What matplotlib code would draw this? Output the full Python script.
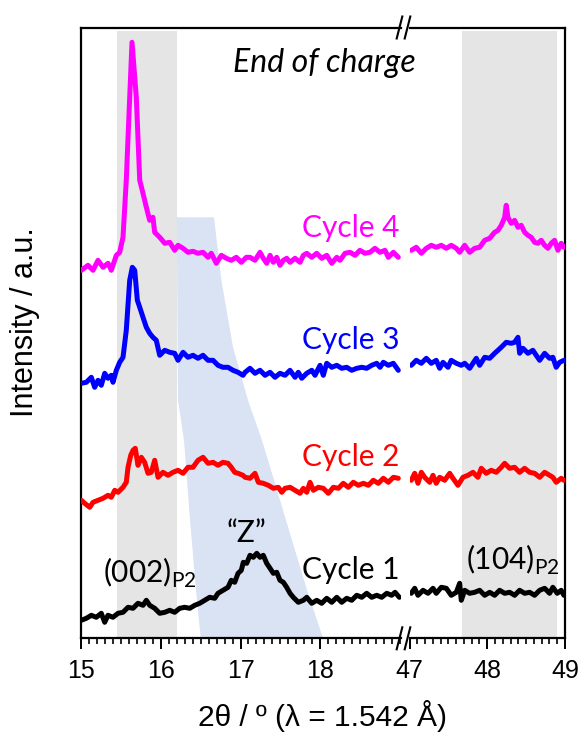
import matplotlib
matplotlib.use("Agg")
import matplotlib.pyplot as plt
from matplotlib.lines import Line2D
from matplotlib.ticker import MultipleLocator

# ---------------- data (2theta in degrees, intensity in a.u.) ----------------
cyc4_x_lo = [15.00, 15.084, 15.147, 15.21, 15.273, 15.336, 15.377, 15.44, 15.482, 15.524, 15.565, 15.608,
             15.637, 15.691, 15.734, 15.775, 15.817, 15.859, 15.90, 15.922, 15.985, 16.048, 16.111, 16.173,
             16.215, 16.278, 16.34, 16.403, 16.466, 16.529, 16.592, 16.633, 16.696, 16.759, 16.822, 16.884,
             16.947, 17.01, 17.073, 17.119, 17.182, 17.245, 17.286, 17.329, 17.371, 17.412, 17.455, 17.496,
             17.538, 17.58, 17.622, 17.685, 17.748, 17.789, 17.832, 17.895, 17.957, 18.02, 18.083, 18.146,
             18.209, 18.25, 18.313, 18.376, 18.439, 18.50, 18.564, 18.626, 18.689, 18.752, 18.815, 18.857,
             18.92, 18.982]
cyc4_i_lo = [368, 373, 368, 378, 371, 375, 368, 383, 386, 401, 458, 541,
             596, 541, 458, 445, 431, 418, 421, 406, 401, 395, 396, 388,
             393, 390, 386, 387, 385, 386, 381, 385, 375, 383, 380, 378,
             381, 376, 381, 381, 378, 386, 380, 375, 383, 376, 381, 373,
             378, 380, 376, 380, 376, 383, 385, 381, 385, 380, 383, 375,
             381, 378, 385, 386, 383, 388, 385, 386, 390, 386, 388, 381,
             386, 381]
cyc4_x_hi = [47.023, 47.087, 47.152, 47.216, 47.28, 47.344, 47.409, 47.473, 47.537, 47.602, 47.645, 47.71,
             47.774, 47.838, 47.902, 47.967, 48.031, 48.095, 48.138, 48.18, 48.224, 48.244, 48.266, 48.308,
             48.352, 48.395, 48.437, 48.481, 48.523, 48.566, 48.609, 48.652, 48.694, 48.738, 48.78, 48.823,
             48.866, 48.909, 48.951, 48.986]
cyc4_i_hi = [388, 391, 385, 390, 393, 391, 393, 390, 393, 390, 386, 393,
             386, 390, 391, 398, 400, 406, 408, 413, 421, 433, 421, 415,
             418, 411, 413, 406, 403, 401, 396, 395, 398, 393, 390, 395,
             398, 388, 395, 391]

cyc3_x_lo = [15.00, 15.063, 15.126, 15.168, 15.21, 15.251, 15.294, 15.335, 15.377, 15.398, 15.44, 15.482,
             15.524, 15.565, 15.608, 15.641, 15.671, 15.704, 15.734, 15.775, 15.817, 15.859, 15.90, 15.942,
             15.985, 16.048, 16.111, 16.173, 16.215, 16.278, 16.34, 16.403, 16.466, 16.529, 16.592, 16.655,
             16.717, 16.78, 16.843, 16.906, 16.969, 17.031, 17.057, 17.119, 17.182, 17.245, 17.308, 17.371,
             17.433, 17.496, 17.559, 17.622, 17.685, 17.726, 17.769, 17.832, 17.895, 17.936, 17.999, 18.04,
             18.083, 18.146, 18.209, 18.271, 18.334, 18.397, 18.46, 18.523, 18.585, 18.648, 18.711, 18.753,
             18.794, 18.857, 18.92, 18.982]
cyc3_i_lo = [255, 256, 261, 251, 258, 253, 265, 260, 263, 256, 268, 276,
             281, 308, 358, 371, 368, 338, 331, 321, 311, 305, 301, 298,
             283, 288, 286, 285, 278, 286, 281, 283, 280, 283, 278, 278,
             273, 271, 271, 268, 266, 263, 266, 270, 265, 268, 263, 266,
             261, 265, 263, 268, 261, 266, 260, 265, 268, 263, 273, 263,
             275, 271, 273, 270, 271, 268, 270, 271, 270, 273, 275, 271,
             276, 273, 275, 268]
cyc3_x_hi = [47.023, 47.087, 47.152, 47.216, 47.28, 47.344, 47.388, 47.431, 47.495, 47.537, 47.602, 47.666,
             47.71, 47.774, 47.816, 47.859, 47.902, 47.967, 48.031, 48.095, 48.138, 48.18, 48.244, 48.308,
             48.352, 48.395, 48.417, 48.459, 48.523, 48.587, 48.63, 48.674, 48.738, 48.802, 48.844, 48.887,
             48.931, 48.986]
cyc3_i_hi = [273, 278, 275, 280, 275, 278, 270, 276, 271, 278, 275, 273,
             275, 270, 275, 280, 273, 281, 280, 285, 288, 291, 296, 295,
             296, 301, 285, 290, 285, 288, 283, 278, 285, 280, 281, 271,
             276, 278]

cyc2_x_lo = [15.00, 15.043, 15.106, 15.147, 15.21, 15.273, 15.336, 15.377, 15.42, 15.461, 15.524, 15.565,
             15.587, 15.621, 15.65, 15.678, 15.712, 15.754, 15.796, 15.838, 15.879, 15.922, 15.964, 16.026,
             16.089, 16.152, 16.215, 16.278, 16.34, 16.403, 16.466, 16.529, 16.592, 16.655, 16.717, 16.78,
             16.843, 16.884, 16.927, 16.969, 17.031, 17.057, 17.119, 17.182, 17.224, 17.286, 17.349, 17.412,
             17.475, 17.518, 17.559, 17.622, 17.685, 17.748, 17.789, 17.832, 17.873, 17.915, 17.977, 18.04,
             18.103, 18.166, 18.229, 18.291, 18.354, 18.417, 18.48, 18.543, 18.606, 18.668, 18.731, 18.794,
             18.857, 18.92, 18.982]
cyc2_i_lo = [138, 135, 131, 136, 138, 140, 143, 141, 148, 146, 151, 156,
             171, 183, 188, 190, 173, 181, 176, 165, 166, 178, 161, 166,
             163, 166, 168, 165, 171, 171, 178, 181, 175, 176, 173, 176,
             175, 171, 166, 165, 163, 161, 160, 165, 156, 155, 153, 150,
             151, 146, 150, 151, 148, 145, 150, 146, 156, 148, 151, 150,
             145, 151, 150, 155, 151, 156, 153, 155, 153, 158, 155, 160,
             156, 161, 160]
cyc2_x_hi = [47.023, 47.067, 47.109, 47.152, 47.195, 47.26, 47.302, 47.344, 47.388, 47.452, 47.517, 47.559,
             47.623, 47.688, 47.752, 47.816, 47.88, 47.923, 47.987, 48.051, 48.116, 48.18, 48.224, 48.288,
             48.352, 48.416, 48.481, 48.545, 48.609, 48.674, 48.738, 48.802, 48.844, 48.887, 48.951, 48.986]
cyc2_i_hi = [158, 165, 155, 166, 161, 156, 163, 155, 161, 158, 165, 160,
             153, 161, 163, 166, 161, 170, 165, 168, 166, 171, 175, 170,
             171, 166, 170, 166, 165, 161, 166, 163, 161, 156, 160, 158]

cyc1_x_lo = [15.00, 15.063, 15.126, 15.188, 15.251, 15.294, 15.335, 15.398, 15.461, 15.524, 15.587, 15.65,
             15.712, 15.775, 15.817, 15.859, 15.922, 15.985, 16.048, 16.111, 16.173, 16.236, 16.299, 16.362,
             16.425, 16.487, 16.55, 16.613, 16.676, 16.717, 16.78, 16.843, 16.884, 16.927, 16.969, 17.01,
             17.035, 17.078, 17.119, 17.161, 17.204, 17.245, 17.286, 17.329, 17.371, 17.412, 17.455, 17.496,
             17.538, 17.58, 17.622, 17.663, 17.726, 17.789, 17.832, 17.895, 17.957, 18.02, 18.083, 18.146,
             18.209, 18.271, 18.334, 18.397, 18.46, 18.523, 18.585, 18.648, 18.711, 18.774, 18.837, 18.899,
             18.941, 18.995]
cyc1_i_lo = [18, 20, 23, 21, 25, 16, 23, 21, 25, 26, 31, 30,
             35, 33, 38, 33, 30, 25, 26, 28, 26, 30, 31, 30,
             33, 35, 38, 41, 40, 45, 48, 51, 58, 56, 65, 68,
             76, 75, 83, 81, 85, 81, 83, 75, 70, 65, 66, 58,
             56, 51, 45, 41, 36, 38, 41, 35, 38, 35, 40, 36,
             41, 36, 40, 38, 43, 41, 45, 41, 43, 41, 45, 43,
             46, 41]
cyc1_x_hi = [47.023, 47.067, 47.109, 47.174, 47.238, 47.302, 47.344, 47.409, 47.473, 47.537, 47.602, 47.645,
             47.666, 47.71, 47.774, 47.838, 47.902, 47.967, 48.031, 48.095, 48.159, 48.224, 48.288, 48.352,
             48.416, 48.481, 48.545, 48.609, 48.674, 48.738, 48.802, 48.844, 48.90, 48.951, 48.986]
cyc1_i_hi = [45, 50, 43, 48, 45, 50, 45, 51, 50, 43, 46, 55,
             38, 48, 45, 46, 48, 43, 46, 43, 48, 45, 46, 43,
             48, 45, 46, 43, 48, 50, 45, 51, 45, 48, 43]

cycle_labels = ["Cycle 1", "Cycle 2", "Cycle 3", "Cycle 4"]
cycle_colors = ["#000000", "#ff0000", "#0000ff", "#ff00ff"]
cycle_label_y = [68, 181, 298, 410]

# shaded regions
band_lo = (15.45, 16.20)
band_hi = (47.675, 48.90)
z_region_x = [16.199, 16.667, 16.76, 16.906, 17.094, 17.27, 17.459, 17.647, 17.836, 18.037,
              16.50, 16.441, 16.366, 16.29, 16.215]
z_region_y = [421, 421, 358, 291, 238, 198, 148, 98, 48, 0,
              0, 48, 118, 198, 238]

xticks_lo = [15, 16, 17, 18]
xticks_hi = [47, 48, 49]

# ---------------- figure ----------------
W, H = 581, 733
fig = plt.figure(figsize=(W / 100, H / 100), dpi=100)


def fx(px):
    return px / W


def fy(py):
    return 1 - py / H


bot, top = fy(638.3), fy(28.3)
axL = fig.add_axes([fx(81.3), bot, fx(401) - fx(81.3), top - bot])
axR = fig.add_axes([fx(409.5), bot, fx(565) - fx(409.5), top - bot])

YMAX = 610
for ax in (axL, axR):
    ax.set_ylim(0, YMAX)
    ax.set_yticks([])
    for s in ax.spines.values():
        s.set_linewidth(1.6)
    ax.tick_params(axis='x', which='major', direction='out', length=8, width=1.4,
                   labelsize=18, pad=7)
    ax.tick_params(axis='x', which='minor', direction='out', length=4, width=1.2)
    ax.xaxis.set_minor_locator(MultipleLocator(0.1))

axL.spines['right'].set_visible(False)
axR.spines['left'].set_visible(False)
axL.set_xlim(15, 19.016)
axR.set_xlim(47, 49)
axL.set_xticks(xticks_lo)
axR.set_xticks(xticks_hi)
axL.set_xticklabels([str(v) for v in xticks_lo], family='Liberation Sans', fontsize=18)
axR.set_xticklabels([str(v) for v in xticks_hi], family='Liberation Sans', fontsize=18)

band_top = (638 - 31) / YMAX
axL.axvspan(*band_lo, ymin=0, ymax=band_top, color='#e5e5e5', lw=0, zorder=0)
axR.axvspan(*band_hi, ymin=0, ymax=band_top, color='#e5e5e5', lw=0, zorder=0)
axL.fill(z_region_x, z_region_y, color='#dae3f3', lw=0, zorder=0.5)

series_lo = [(cyc1_x_lo, cyc1_i_lo), (cyc2_x_lo, cyc2_i_lo), (cyc3_x_lo, cyc3_i_lo), (cyc4_x_lo, cyc4_i_lo)]
series_hi = [(cyc1_x_hi, cyc1_i_hi), (cyc2_x_hi, cyc2_i_hi), (cyc3_x_hi, cyc3_i_hi), (cyc4_x_hi, cyc4_i_hi)]
for (xl, yl), (xh, yh), c in zip(series_lo, series_hi, cycle_colors):
    axL.plot(xl, yl, color=c, lw=3.6, solid_joinstyle='round', solid_capstyle='round', zorder=3)
    axR.plot(xh, yh, color=c, lw=3.6, solid_joinstyle='round', solid_capstyle='round', zorder=3)

ann_font = 'Lato'
for lab, c, yv in zip(cycle_labels, cycle_colors, cycle_label_y):
    axL.text(19.0, yv, lab, color=c, ha='right', va='center', fontsize=21.5, family=ann_font)

axL.text(17.08, 105, '\u201cZ\u201d', ha='center', va='center', fontsize=21.5, family=ann_font)
axL.text(15.27, 55, '(002)$_\\mathregular{P2}$', ha='left', va='baseline', fontsize=21.5, family=ann_font)
axR.text(47.726, 68, '(104)$_\\mathregular{P2}$', ha='left', va='baseline', fontsize=21.5, family=ann_font)

fig.text(fx(324), fy(63), 'End of charge', ha='center', va='center', fontsize=23,
         style='italic', family=ann_font)

fig.text(fx(25), fy(322), 'Intensity / a.u.', rotation=90, ha='center', va='center',
         fontsize=22, family='Liberation Sans')
fig.text(fx(323), fy(716), '2\u03b8 / \u00ba (\u03bb = 1.542 \u00c5)', ha='center', va='center',
         fontsize=21.5, family='Liberation Sans')

# axis-break marks
for yc in (27.5, 638.3):
    for xc in (399.5, 407.5):
        fig.add_artist(Line2D([fx(xc - 2.8), fx(xc + 2.8)], [fy(yc + 11), fy(yc - 11)],
                              color='black', lw=1.5))

fig.savefig('out.png', dpi=100)
